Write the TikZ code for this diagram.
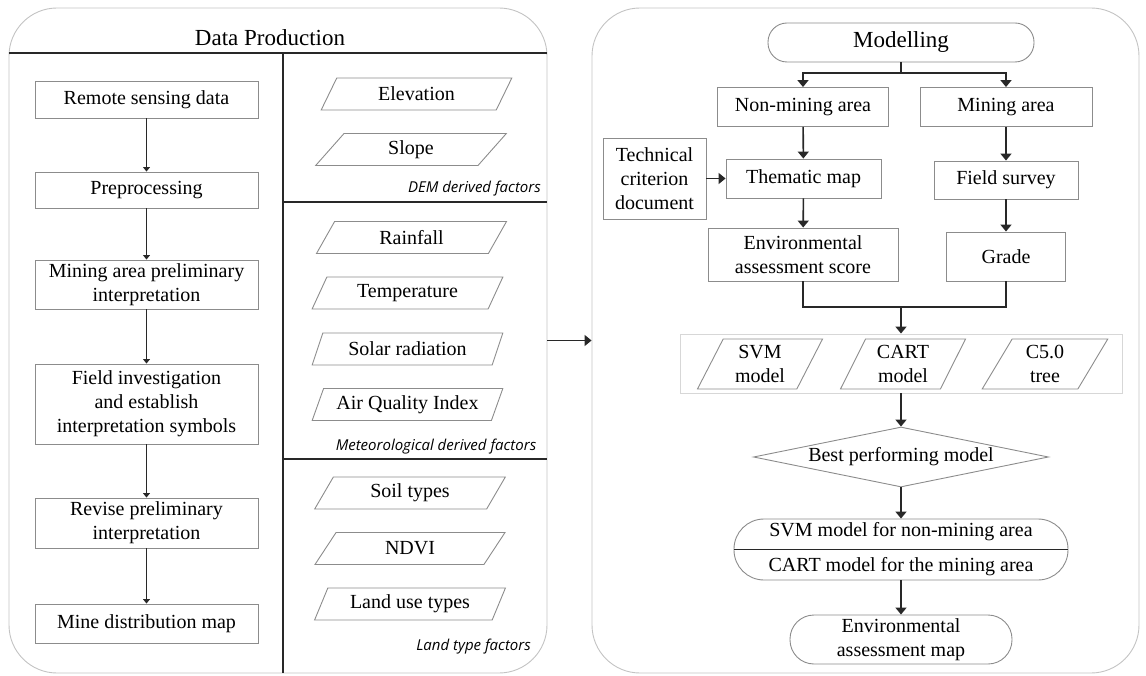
\documentclass[tikz,border=0pt]{standalone}
\usepackage{fontspec}
\setmainfont{Liberation Serif}
\newfontfamily\labelfont{Open Sans}
\usetikzlibrary{arrows.meta,shapes.geometric,calc}
\definecolor{boxgray}{RGB}{140,140,140}
\definecolor{panelgray}{RGB}{195,195,195}
\definecolor{groupgray}{RGB}{215,215,215}
\definecolor{linedark}{RGB}{40,40,40}
\begin{document}
\begin{tikzpicture}[x=1pt,y=-1pt,
  txt/.style={font=\fontsize{20}{24}\selectfont,align=center},
  box/.style={txt,draw=boxgray,line width=0.9pt,rectangle,inner sep=2pt},
  para/.style={txt,draw=boxgray,line width=0.9pt,trapezium,trapezium left angle=62,trapezium right angle=118,trapezium stretches=true,inner sep=0pt,minimum width=191pt,minimum height=32pt},
  mpara/.style={txt,draw=boxgray,line width=0.9pt,trapezium,trapezium left angle=65,trapezium right angle=115,trapezium stretches=true,inner sep=0pt,minimum width=126pt,minimum height=50pt},
  lab/.style={font=\labelfont\itshape\fontsize{15}{18}\selectfont,anchor=east,inner sep=0pt},
  panel/.style={draw=panelgray,line width=0.9pt,rounded corners=48pt,rectangle},
  arr/.style={-{Triangle[length=4.5pt,width=7pt]},line width=0.9pt,draw=linedark},
  rarr/.style={-{Triangle[length=7pt,width=11pt]},line width=1.6pt,draw=linedark},
  ln/.style={line width=1.2pt,draw=linedark},
  rln/.style={line width=1.6pt,draw=linedark},
]
\useasboundingbox (0,0) rectangle (1146,676);

% panels
\node[panel,minimum width=538pt,minimum height=665pt] (lp) at (278,340.5) {};
\node[panel,minimum width=547pt,minimum height=665pt] (rp) at (865.5,340.5) {};

% left panel structure
\node[txt,font=\fontsize{23}{27}\selectfont] (dp) at (270,38) {Data Production};
\coordinate (t1) at (9,53);
\coordinate (t2) at (547,53);
\coordinate (d1) at (283,53);
\coordinate (d2) at (283,673);
\coordinate (h1a) at (283,202);
\coordinate (h1b) at (547,202);
\coordinate (h2a) at (283,459);
\coordinate (h2b) at (547,459);
\draw[ln] (t1) -- (t2);
\draw[ln] (d1) -- (d2);
\draw[ln] (h1a) -- (h1b);
\draw[ln] (h2a) -- (h2b);

% left flow
\node[box,minimum width=223pt,minimum height=37pt] (rs) at (146.5,99.5) {Remote sensing data};
\node[box,minimum width=223pt,minimum height=36pt] (pre) at (146.5,190) {Preprocessing};
\node[box,minimum width=223pt,minimum height=49pt] (mpi) at (146.5,284.5) {Mining area preliminary\\interpretation};
\node[box,minimum width=223pt,minimum height=80pt] (fi) at (146.5,404) {Field investigation\\and establish\\interpretation symbols};
\node[box,minimum width=223pt,minimum height=50pt] (rev) at (146.5,523) {Revise preliminary\\interpretation};
\node[box,minimum width=223pt,minimum height=39pt] (mdm) at (146.5,623.5) {Mine distribution map};
\draw[arr] (rs) -- (pre);
\draw[arr] (pre) -- (mpi);
\draw[arr] (mpi) -- (fi);
\draw[arr] (fi) -- (rev);
\draw[arr] (rev) -- (mdm);

% factors
\node[para] (elev) at (416.5,94) {Elevation};
\node[para] (slope) at (411,149.5) {Slope};
\node[lab] (demlab) at (541,189) {DEM derived factors};
\node[para] (rain) at (411.5,237.5) {Rainfall};
\node[para] (temp) at (407.5,293) {Temperature};
\node[para] (solar) at (407.5,349) {Solar radiation};
\node[para] (aqi) at (407.5,404.5) {Air Quality Index};
\node[lab] (metlab) at (536.5,447) {Meteorological derived factors};
\node[para] (soil) at (410,493) {Soil types};
\node[para] (ndvi) at (410,548.5) {NDVI};
\node[para] (land) at (410,604) {Land use types};
\node[lab] (landlab) at (531,647) {Land type factors};

% link between panels
\draw[rarr] (lp.east) -- (rp.west);

% right panel
\node[txt,draw=boxgray,line width=0.9pt,rounded corners=19pt,minimum width=266pt,minimum height=39pt,font=\fontsize{23}{27}\selectfont] (mod) at (901,42.5) {Modelling};
\node[box,minimum width=171pt,minimum height=39pt] (nonmin) at (803,107) {Non-mining area};
\node[box,minimum width=172pt,minimum height=39pt] (min) at (1006,107) {Mining area};
\coordinate (br) at (901,73);
\draw[rln] (mod.south) -- (br);
\draw[rarr] (br) -| (nonmin.north);
\draw[rarr] (br) -| (min.north);

\node[box,minimum width=103pt,minimum height=81pt] (tc) at (654.5,178.5) {Technical\\criterion\\document};
\node[box,minimum width=155pt,minimum height=39pt] (tm) at (803.5,178.5) {Thematic map};
\node[box,minimum width=144pt,minimum height=38pt] (fs) at (1006,180) {Field survey};
\draw[rarr] (tc) -- (tm);
\draw[rarr] (nonmin) -- (tm);
\draw[rarr] (min) -- (fs);

\node[box,minimum width=190pt,minimum height=53pt] (env) at (803,254.5) {Environmental\\assessment score};
\node[box,minimum width=119pt,minimum height=49pt] (grade) at (1006,256.5) {Grade};
\draw[rarr] (tm) -- (env);
\draw[rarr] (fs) -- (grade);

\coordinate (mg) at (901,307);
\draw[rln] (env.south) |- (mg) -| (grade.south);

\node[draw=groupgray,line width=0.9pt,rectangle,minimum width=442pt,minimum height=59pt] (grp) at (901,363.5) {};
\node[mpara] (svm) at (760,364) {SVM\\model};
\node[mpara] (cart) at (903,364) {CART\\model};
\node[mpara] (c50) at (1045,364) {C5.0\\tree};
\draw[rarr] (mg) -- (grp.north);

\node[txt,draw=boxgray,line width=0.9pt,diamond,aspect=4.9,inner sep=0pt,minimum width=295pt,minimum height=60pt] (best) at (901,457) {Best performing model};
\draw[rarr] (grp.south) -- (best.north);

\node[draw=boxgray,line width=0.9pt,rectangle,rounded corners=30pt,minimum width=334pt,minimum height=61pt] (final) at (901,549.5) {};
\draw[ln] (final.west) -- (final.east);
\node[txt] (svmf) at (901,532) {SVM model for non-mining area};
\node[txt] (cartf) at (901,567) {CART model for the mining area};
\draw[rarr] (best.south) -- (final.north);

\node[txt,draw=boxgray,line width=0.9pt,rounded corners=24pt,minimum width=222pt,minimum height=49pt,inner sep=1pt] (envmap) at (901,639.5) {Environmental\\assessment map};
\draw[rarr] (final.south) -- (envmap.north);
\end{tikzpicture}
\end{document}
